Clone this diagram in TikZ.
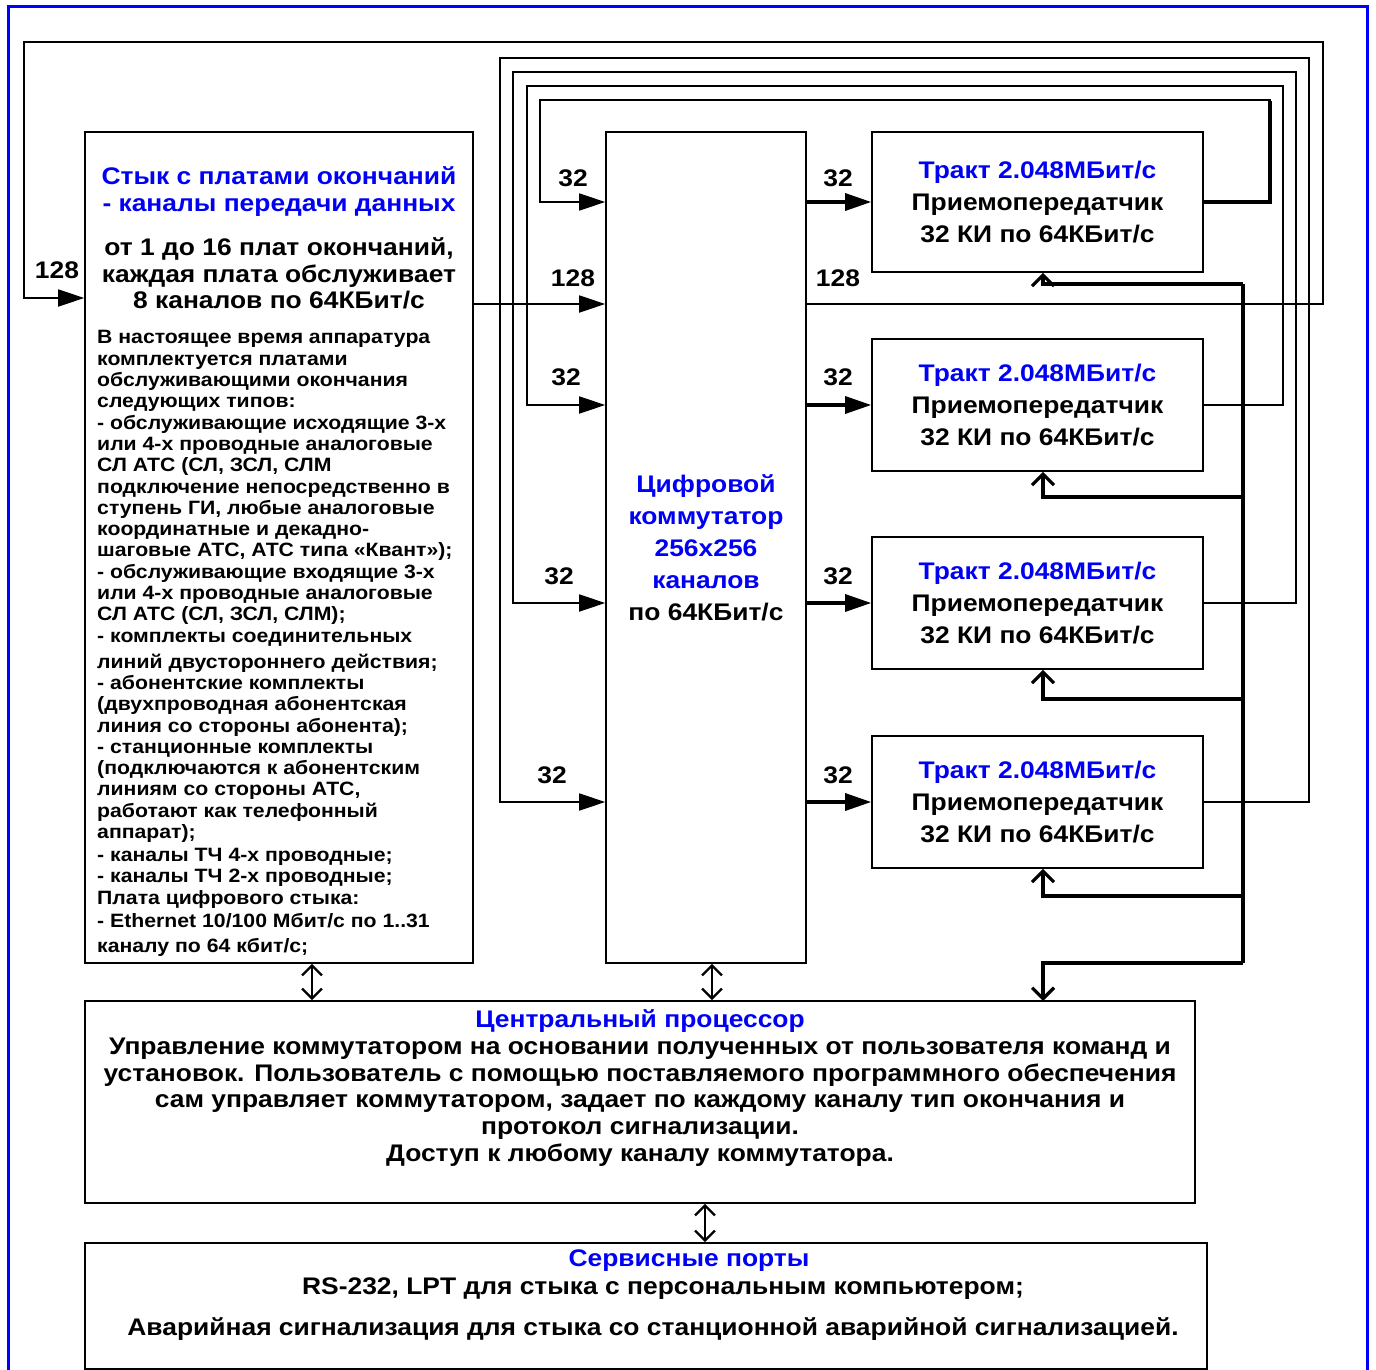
\documentclass[tikz,border=0pt]{standalone}
\usepackage{fontspec}
\setmainfont{Liberation Sans}[FakeStretch=1.1]
\usetikzlibrary{arrows.meta,positioning}
\definecolor{frameblue}{RGB}{0,0,255}
\definecolor{headblue}{RGB}{0,0,245}
\newcommand{\hd}[1]{\textcolor{headblue}{#1}}
\begin{document}
\begin{tikzpicture}[x = 1pt, y = -1pt, line join = miter, font = \bfseries\fontsize{24}{32}\selectfont,
	block/.style = {draw, line width = 1.6pt, inner sep = 0pt},
	wire/.style = {line width = 1.8pt},
	fat/.style = {line width = 3.2pt},
	fwd/.style = {-{Triangle[length = 26pt, width = 17pt]}},
	barb/.style = {-{Straight Barb[length = 11pt, width = 22pt]}},
	both/.style = {{Straight Barb[length = 10pt, width = 20pt]}-{Straight Barb[length = 10pt, width = 20pt]}}]
	\useasboundingbox (0,0) rectangle (1376,1370);
	\draw[frameblue, line width = 3pt] (8,1390) -- (8,7) -- (1367,7) -- (1367,1390);
	\node[block, minimum width = 388pt, minimum height = 831pt] (iface) at (279,547.5) {};
	\node[block, minimum width = 200pt, minimum height = 831pt, align = center] (switch) at (706,547.5)
	{\hd{Цифровой}\\\hd{коммутатор}\\\hd{256x256}\\\hd{каналов}\\по 64КБит/с};
	\foreach \n/\y/\h in {1/202/140,2/405/132,3/603/132,4/802/132}
	\node[block, minimum width = 331pt, minimum height = \h pt, align = center] (tract\n) at (1037.5,\y)
	{\hd{Тракт 2.048МБит/с}\\Приемопередатчик\\32 КИ по 64КБит/с};
	\node[block, minimum width = 1110pt, minimum height = 202pt] (cpu) at (640,1102) {};
	\node[block, minimum width = 1122pt, minimum height = 126pt] (ports) at (646,1306) {};
	\node[align = center, font = \bfseries\fontsize{24}{27}\selectfont] (ifhead) at (279,191.5)
	{\hd{Стык с платами окончаний}\\\hd{- каналы передачи данных}};
	\node[align = center, font = \bfseries\fontsize{24}{26.5}\selectfont] (ifsub) at (279,273.5)
	{от 1 до 16 плат окончаний,\\каждая плата обслуживает\\8 каналов по 64КБит/с};
	\node[align = left, anchor = north west, inner sep = 0pt, font = \bfseries\fontsize{19.3}{21.3}\selectfont] (iflist) at (97,330.5)
	{В настоящее время аппаратура\\
	комплектуется платами\\
	обслуживающими окончания\\
	следующих типов:\\
	- обслуживающие исходящие 3-х\\
	или 4-х проводные аналоговые\\
	СЛ АТС (СЛ, ЗСЛ, СЛМ\\
	подключение непосредственно в\\
	ступень ГИ, любые аналоговые\\
	координатные и декадно-\\
	шаговые АТС, АТС типа «Квант»);\\
	- обслуживающие входящие 3-х\\
	или 4-х проводные аналоговые\\
	СЛ АТС (СЛ, ЗСЛ, СЛМ);\\
	- комплекты соединительных\\[4.7pt]
	линий двустороннего действия;\\
	- абонентские комплекты\\
	(двухпроводная абонентская\\
	линия со стороны абонента);\\
	- станционные комплекты\\
	(подключаются к абонентским\\
	линиям со стороны АТС,\\
	работают как телефонный\\
	аппарат);\\[1.7pt]
	- каналы ТЧ 4-х проводные;\\
	- каналы ТЧ 2-х проводные;\\
	Плата цифрового стыка:\\[1.7pt]
	- Ethernet 10/100 Мбит/с по 1..31\\[3.7pt]
	каналу по 64 кбит/с;};
	\node[align = center, font = \bfseries\fontsize{24}{26.8}\selectfont] (cputext) at (640,1088)
	{\hd{Центральный процессор}\\
	Управление коммутатором на основании полученных от пользователя команд и\\
	установок. Пользователь с помощью поставляемого программного обеспечения\\
	сам управляет коммутатором, задает по каждому каналу тип окончания и\\
	протокол сигнализации.\\
	Доступ к любому каналу коммутатора.};
	\node (ptitle) at (689,1261) {\hd{Сервисные порты}};
	\node (pline1) at (663,1289) {RS-232, LPT для стыка с персональным компьютером;};
	\node (pline2) at (653,1329) {Аварийная сигнализация для стыка со станционной аварийной сигнализацией.};
	\foreach \n/\xr/\yt/\xl/\xa/\ya in {1/1270/100/540/573/178,2/1283/86/527/566/377,3/1296/72/513/559/576,4/1309/58/500/552/775}
	{
	\draw[wire, fwd] (tract\n.east) -| (\xr,\yt) -| (\xl,0 |- tract\n.west) -- (switch.west |- tract\n.west);
	\draw[fat, fwd] (switch.east |- tract\n.west) -- (tract\n.west);
	\node (in\n) at (\xa,\ya) {32};
	\node (out\n) at (838,\ya) {32};
	}
	\draw[fat] (tract1.east) -| (1270,101);
	\draw[wire, fwd] (iface.east |- 0,304) -- (switch.west |- 0,304);
	\draw[wire, fwd] (switch.east |- 0,304) -| (1323,42) -| (24,298) -- (iface.west |- 0,298);
	\node (loopin) at (57,270) {128};
	\node (swin) at (573,278) {128};
	\node (swout) at (838,278) {128};
	\path
	(1243,284) coordinate (bus1)
	(1243,497) coordinate (bus2)
	(1243,699) coordinate (bus3)
	(1243,896) coordinate (bus4)
	(1243,963) coordinate (bus5)
	(1043,1001) coordinate (cpuin)
	;
	\draw[fat] (bus1) -- (bus5);
	\foreach \n in {1,...,4}
	\draw[fat, barb] (bus\n) -| ([xshift = 5.5pt]tract\n.south);
	\draw[fat, barb] (bus5) -| (cpuin);
	\draw[wire, both, line width = 2.3pt] (iface.south -| 312,0) -- (cpu.north -| 312,0);
	\draw[wire, both, line width = 2.3pt] (switch.south -| 712,0) -- (cpu.north -| 712,0);
	\draw[wire, both, line width = 2.3pt] (cpu.south -| 705,0) -- (ports.north -| 705,0);
\end{tikzpicture}
\end{document}
